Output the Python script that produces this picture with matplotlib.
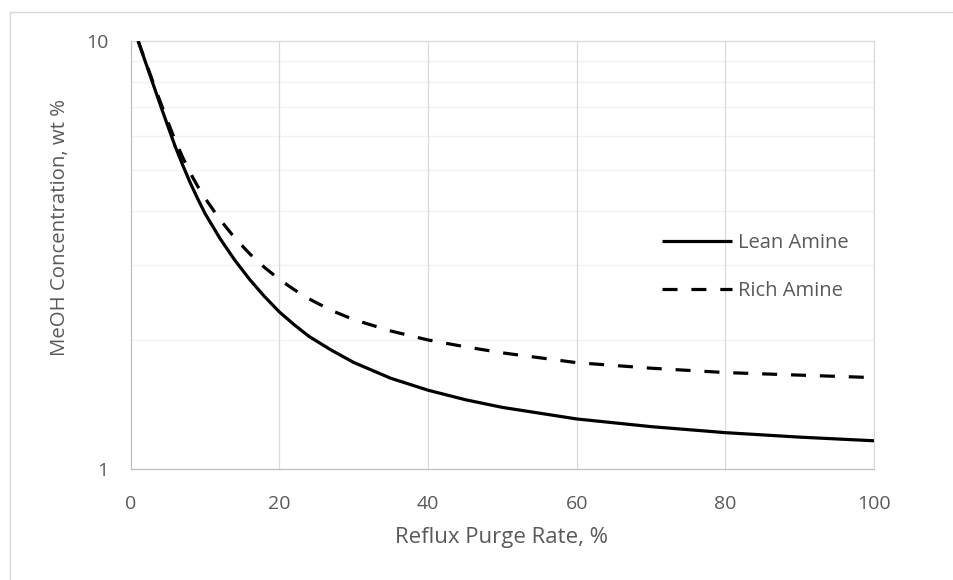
import matplotlib
matplotlib.use("Agg")
import matplotlib.pyplot as plt
from matplotlib.lines import Line2D
from matplotlib.ticker import FixedLocator, FixedFormatter, NullFormatter

plt.rcParams['font.family'] = ['Open Sans', 'DejaVu Sans']
plt.rcParams['lines.scale_dashes'] = False

# ---- data ----
lean_x = [1, 2, 3, 4, 5, 6, 7, 8, 9, 10, 12, 14, 16, 18, 20, 22, 24, 27, 30, 35,
          40, 45, 50, 60, 70, 80, 90, 100]
lean_y = [10, 8.913, 7.943, 7.079, 6.324, 5.662, 5.129, 4.667, 4.285, 3.954, 3.459,
          3.076, 2.773, 2.529, 2.328, 2.173, 2.040, 1.895, 1.774, 1.629, 1.528,
          1.452, 1.393, 1.309, 1.256, 1.216, 1.187, 1.164]
rich_x = [1, 2, 3, 4, 5, 6, 7, 8, 9, 10, 12, 14, 16, 18, 20, 22, 24, 27, 30, 35,
          40, 45, 50, 60, 70, 80, 90, 100]
rich_y = [10, 8.954, 8.017, 7.194, 6.471, 5.848, 5.346, 4.920, 4.581, 4.295, 3.828,
          3.467, 3.184, 2.958, 2.773, 2.624, 2.497, 2.347, 2.234, 2.101, 2.002,
          1.930, 1.868, 1.772, 1.720, 1.680, 1.657, 1.635]
series_names = ["Lean Amine", "Rich Amine"]
x_ticks = [0, 20, 40, 60, 80, 100]
y_ticks = [1, 10]
y_tick_labels = ["1", "10"]
y_minor = [2, 3, 4, 5, 6, 7, 8, 9]
x_label = "Reflux Purge Rate, %"
y_label = "MeOH Concentration, wt %"

TXT = '#595959'
W, H = 954, 580
fig = plt.figure(figsize=(W / 100, H / 100), dpi=100)
ax = fig.add_axes([130.7 / W, 1 - 469 / H, (874 - 130.7) / W, (469 - 41) / H])

ax.set_yscale('log')
ax.set_xlim(0, 100)
ax.set_ylim(1, 10)

# gridlines
for v in y_minor:
    ax.axhline(v, color='#f2f2f2', lw=1.0, zorder=0)
for v in [10]:
    ax.axhline(v, color='#d9d9d9', lw=0.9, zorder=0.5, clip_on=False)
for v in x_ticks[1:]:
    ax.axvline(v, color='#d9d9d9', lw=0.9, zorder=0.5, clip_on=False)

ax.plot(lean_x, lean_y, color='black', lw=2.3, solid_capstyle='butt',
        solid_joinstyle='round', label=series_names[0], zorder=3)
ax.plot(rich_x, rich_y, color='black', lw=2.3, dashes=(10.8, 10),
        dash_capstyle='butt', dash_joinstyle='round', label=series_names[1], zorder=3)

for s in ['top', 'right']:
    ax.spines[s].set_visible(False)
for s in ['left', 'bottom']:
    ax.spines[s].set_color('#bfbfbf')
    ax.spines[s].set_linewidth(0.9)

ax.xaxis.set_major_locator(FixedLocator(x_ticks))
ax.yaxis.set_major_locator(FixedLocator(y_ticks))
ax.yaxis.set_major_formatter(FixedFormatter(y_tick_labels))
ax.yaxis.set_minor_locator(FixedLocator([]))
ax.yaxis.set_minor_formatter(NullFormatter())
ax.tick_params(axis='both', length=0, labelsize=14, labelcolor=TXT)
ax.tick_params(axis='y', pad=16)
ax.tick_params(axis='x', pad=19)

fig.text(502 / W, 1 - 538 / H, x_label, ha='center', va='center',
         fontsize=16, color=TXT)
fig.text(60 / W, 1 - 228 / H, y_label, ha='center', va='center',
         rotation=90, fontsize=14.7, color=TXT)

fs = 14.5
fpx = fs * 100 / 72
leg = ax.legend(loc='center left', bbox_to_anchor=(661.7 / W, 1 - 267 / H),
                bbox_transform=fig.transFigure, frameon=False, fontsize=fs,
                handlelength=70 / fpx, handletextpad=0.3, borderpad=0,
                borderaxespad=0, labelspacing=1.35, labelcolor=TXT)

# outer chart border (top and left visible)
fig.add_artist(Line2D([10.5 / W, 1], [1 - 12 / H, 1 - 12 / H], color='#d9d9d9',
                      lw=1.0, transform=fig.transFigure))
fig.add_artist(Line2D([10.5 / W, 10.5 / W], [0, 1 - 12 / H], color='#d9d9d9',
                      lw=1.0, transform=fig.transFigure))

fig.savefig('out.png', dpi=100)
